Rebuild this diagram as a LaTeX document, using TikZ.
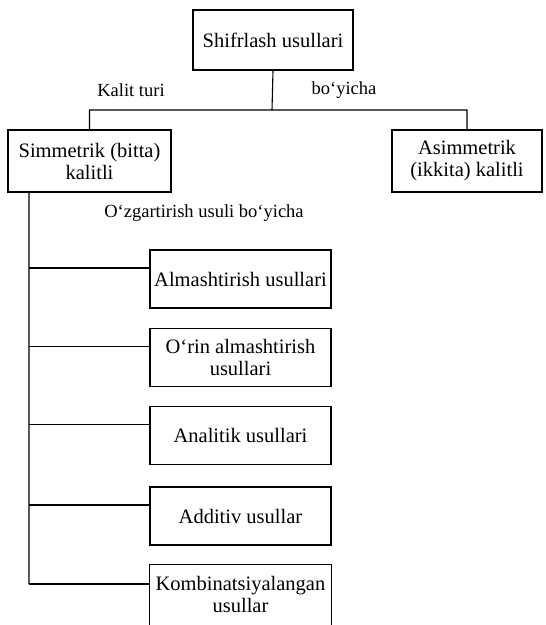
\documentclass[tikz,border=0pt]{standalone}
\usepackage{fontspec}
\setmainfont{Liberation Serif}
\usetikzlibrary{positioning,calc}

\begin{document}
\begin{tikzpicture}[x=1pt,y=-1pt,auto]
                        \tikzstyle{every node}=[fill=none,rectangle,draw,inner sep=0,align=center]
                        \tikzstyle{note}=[draw=none,font=\fontsize{18.5}{20}\selectfont]
                        \tikzstyle{method}=[draw=black,line width=1.1,minimum width=181,minimum height=58,fill=white,font=\fontsize{20.5}{22}\selectfont]
                        \tikzstyle{kind}=[method,minimum height=62]
                        {
                            \useasboundingbox (0,0) rectangle (546,625);

                            \node[method,minimum width=160,minimum height=60] (root) at (273,40) {Shifrlash usullari};
                            \node[kind,minimum width=163] (sym) at (89.5,161) {Simmetrik (bitta)\\kalitli};
                            \node[kind,minimum width=150] (asym) at (467,161) {Asimmetrik\\(ikkita) kalitli};

                            \node[note] (kb) at (131,90) {Kalit turi};
                            \node[note] (kc) at (344,90) {bo‘yicha};
                            \node[note] (oz) at (204,213) {O‘zgartirish usuli bo‘yicha};

                            \node[method] (m0) at (240.5,279) {Almashtirish usullari};
                            \node[method] (m1) at (240.5,357.5) {O‘rin almashtirish\\usullari};
                            \node[method] (m2) at (240.5,435.5) {Analitik usullari};
                            \node[method] (m3) at (240.5,516) {Additiv usullar};
                            \node[method,draw=none] (m4) at (240.5,594) {Kombinatsiyalangan\\usullar};
                            % last box runs off the page
                            \draw[line width=1.1] ([yshift=-8]m4.south west) -- (m4.north west) -- (m4.north east) -- ([yshift=-8]m4.south east);

                            \coordinate (split) at (272,110);
                            \coordinate (trunk) at (29,192);

                            \path[draw,line width=1.1]
                                (root.south) -- (split)
                                (sym.north) -- (sym.north |- split) -- (asym.north |- split) -- (asym.north)
                                (trunk) -- ([yshift=10]m4.west -| trunk);

                            \foreach \m/\d in {m0/11,m1/11,m2/11,m3/11,m4/10}
                                \draw[line width=1.1] ([yshift=\d]\m.west -| trunk) -- ([yshift=\d]\m.west);
                        }
                    \end{tikzpicture}
\end{document}
